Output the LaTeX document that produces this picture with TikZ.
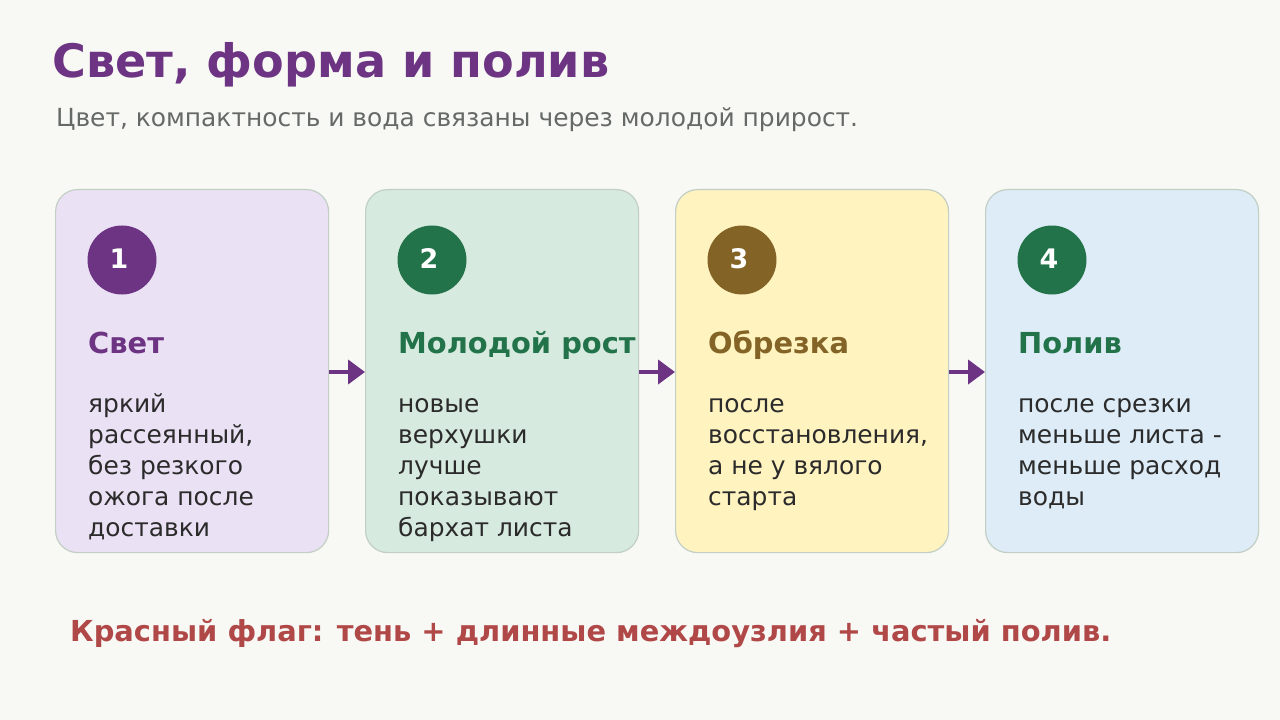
\documentclass[tikz,border=0pt]{standalone}
\usepackage{fontspec}
\setmainfont{DejaVu Sans}
\usetikzlibrary{arrows.meta}
\definecolor{bg}{HTML}{F8F8F4}
\definecolor{purp}{HTML}{6C3483}
\definecolor{grn}{HTML}{23734A}
\definecolor{brn}{HTML}{836426}
\definecolor{subgray}{HTML}{666A66}
\definecolor{bodyc}{HTML}{2B2B2B}
\definecolor{redc}{HTML}{B04848}
\definecolor{cardline}{HTML}{C2CFC5}
\definecolor{f1}{HTML}{EBE1F4}
\definecolor{f2}{HTML}{D7EADF}
\definecolor{f3}{HTML}{FFF3C0}
\definecolor{f4}{HTML}{DDECF6}
\newcommand{\numtxt}[1]{\hspace*{-6bp}\raisebox{2bp}{#1}}
\tikzset{
  card/.style={draw=cardline, line width=1.2pt, rounded corners=22bp, minimum width=273bp, minimum height=363bp, inner sep=0pt, anchor=north west},
  numc/.style={circle, minimum size=69bp, inner sep=0pt, text=white, font=\fontsize{27}{30}\selectfont\bfseries},
  head/.style={anchor=base west, inner sep=0pt, font=\fontsize{29}{33}\selectfont\bfseries},
  body/.style={anchor=base west, inner sep=0pt, align=left, text=bodyc, font=\fontsize{25}{31}\selectfont},
  flow/.style={-{Triangle[length=17bp,width=24bp]}, draw=purp, line width=4bp}
}
\begin{document}
\begin{tikzpicture}[x=1bp,y=-1bp]
\fill[bg] (0,0) rectangle (1280,720);
\useasboundingbox (0,0) rectangle (1280,720);
\node[anchor=base west, inner sep=0pt, text=purp, font=\fontsize{46.3}{50}\selectfont\bfseries] (title) at (52,78) {Свет, форма и полив};
\node[anchor=base west, inner sep=0pt, text=subgray, font=\fontsize{25}{29}\selectfont] (sub) at (56,127) {Цвет, компактность и вода связаны через молодой прирост.};

\node[card, fill=f1] (c1) at (55,189) {};
\node[card, fill=f2] (c2) at (365,189) {};
\node[card, fill=f3] (c3) at (675,189) {};
\node[card, fill=f4] (c4) at (985,189) {};

\node[numc, fill=purp] (n1) at (122,260) {\numtxt{1}};
\node[numc, fill=grn] (n2) at (432,260) {\numtxt{2}};
\node[numc, fill=brn] (n3) at (742,260) {\numtxt{3}};
\node[numc, fill=grn] (n4) at (1052,260) {\numtxt{4}};

\node[head, text=purp] (h1) at (88,353) {Свет};
\node[head, text=grn] (h2) at (398,353) {Молодой рост};
\node[head, text=brn] (h3) at (708,353) {Обрезка};
\node[head, text=grn] (h4) at (1018,353) {Полив};

\node[body] (b1) at (88,536) {яркий\\рассеянный,\\без резкого\\ожога после\\доставки};
\node[body] (b2) at (398,536) {новые\\верхушки\\лучше\\показывают\\бархат листа};
\node[body] (b3) at (708,505) {после\\восстановления,\\а не у вялого\\старта};
\node[body] (b4) at (1018,505) {после срезки\\меньше листа -\\меньше расход\\воды};

\draw[flow] (c1.east |- 0,372) -- (c2.west |- 0,372);
\draw[flow] (c2.east |- 0,372) -- (c3.west |- 0,372);
\draw[flow] (c3.east |- 0,372) -- (c4.west |- 0,372);

\node[anchor=base west, inner sep=0pt, text=redc, font=\fontsize{29}{33}\selectfont\bfseries] (flag) at (70,641) {Красный флаг: тень + длинные междоузлия + частый полив.};
\end{tikzpicture}
\end{document}
